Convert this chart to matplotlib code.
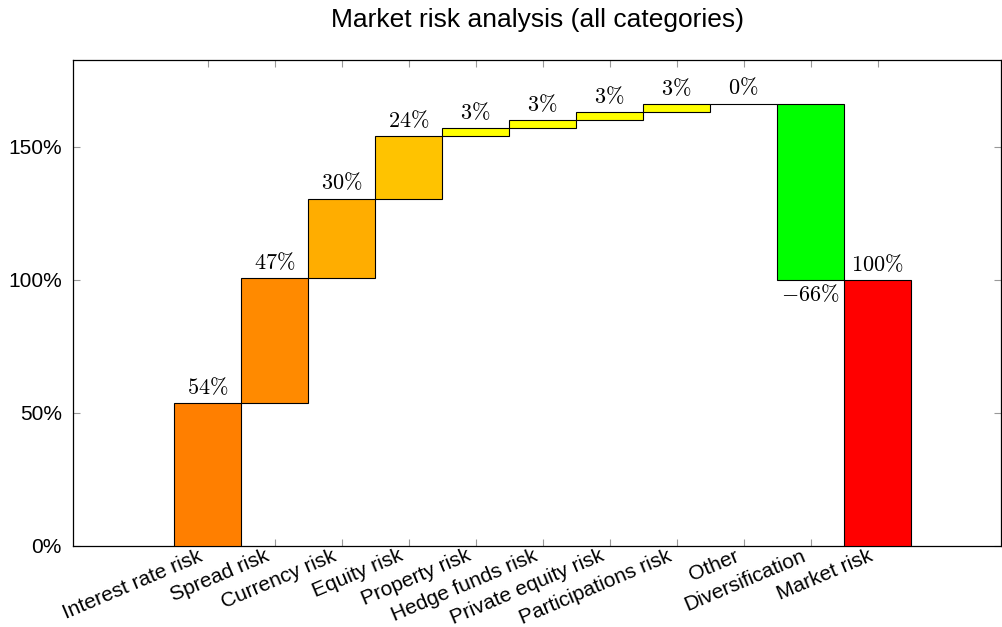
import matplotlib
matplotlib.use("Agg")
import matplotlib.pyplot as plt
import matplotlib.transforms as mtransforms
import numpy as np

plt.rcParams['font.family'] = ['Liberation Sans', 'DejaVu Sans']
plt.rcParams['mathtext.fontset'] = 'cm'

categories = ["Interest rate risk", "Spread risk", "Currency risk", "Equity risk",
              "Property risk", "Hedge funds risk", "Private equity risk",
              "Participations risk", "Other", "Diversification", "Market risk"]
changes = [53.8, 47.0, 29.8, 23.6, 3.0, 2.8, 3.0, 3.0, 0.3, -66.3]
total = 100.0
colors = ["#FF7F00", "#FF8A00", "#FFAD00", "#FFC300", "#FFFF00", "#FFFF00",
          "#FFFF00", "#FFFF00", "#FFFF00", "#00FF00", "#FF0000"]
yticks = [0, 50, 100, 150]

fig = plt.figure(figsize=(10.03, 6.27), dpi=100)
ax = fig.add_axes([0.0728, 0.1292, 0.9252, 0.7751])

x = np.arange(len(categories))
cum = np.concatenate([[0], np.cumsum(changes)])
bottoms = list(np.minimum(cum[:-1], cum[1:])) + [0]
heights = list(np.abs(changes)) + [total]
ax.bar(x, heights, bottom=bottoms, width=1.0, color=colors, edgecolor='black',
       linewidth=0.8, zorder=3)

vals = list(changes) + [total]
tops = list(cum[1:]) + [total]
for i, v in enumerate(vals):
    lab = r'$%d\%%$' % round(v) if v >= 0 else r'$-%d\%%$' % round(-v)
    if v >= 0:
        ax.annotate(lab, (x[i], tops[i]), xytext=(0, 3), textcoords='offset points',
                    ha='center', va='bottom', fontsize=16)
    else:
        ax.annotate(lab, (x[i], tops[i]), xytext=(0, -3), textcoords='offset points',
                    ha='center', va='top', fontsize=16)

ax.set_xlim(-2.007, 11.84)
ax.set_ylim(0, 182.7)
ax.set_xticks(x)
ax.set_xticklabels(categories, rotation=23, ha='right', va='center',
                   rotation_mode='anchor', fontsize=15)
ax.set_yticks(yticks)
ax.set_yticklabels(['%d%%' % t for t in yticks], fontsize=15)
ax.tick_params(direction='in', length=5, color='#999999', top=True, right=True)
ax.tick_params(axis='x', pad=6.5)
ax.tick_params(axis='y', pad=8)
off = mtransforms.ScaledTranslation(-6 / 100, 0, fig.dpi_scale_trans)
for lbl in ax.get_xticklabels():
    lbl.set_transform(lbl.get_transform() + off)
for s in ax.spines.values():
    s.set_linewidth(0.9)
    s.set_color('black')
ax.set_title("Market risk analysis (all categories)", fontsize=19, pad=24)

fig.savefig("out.png", dpi=100)
